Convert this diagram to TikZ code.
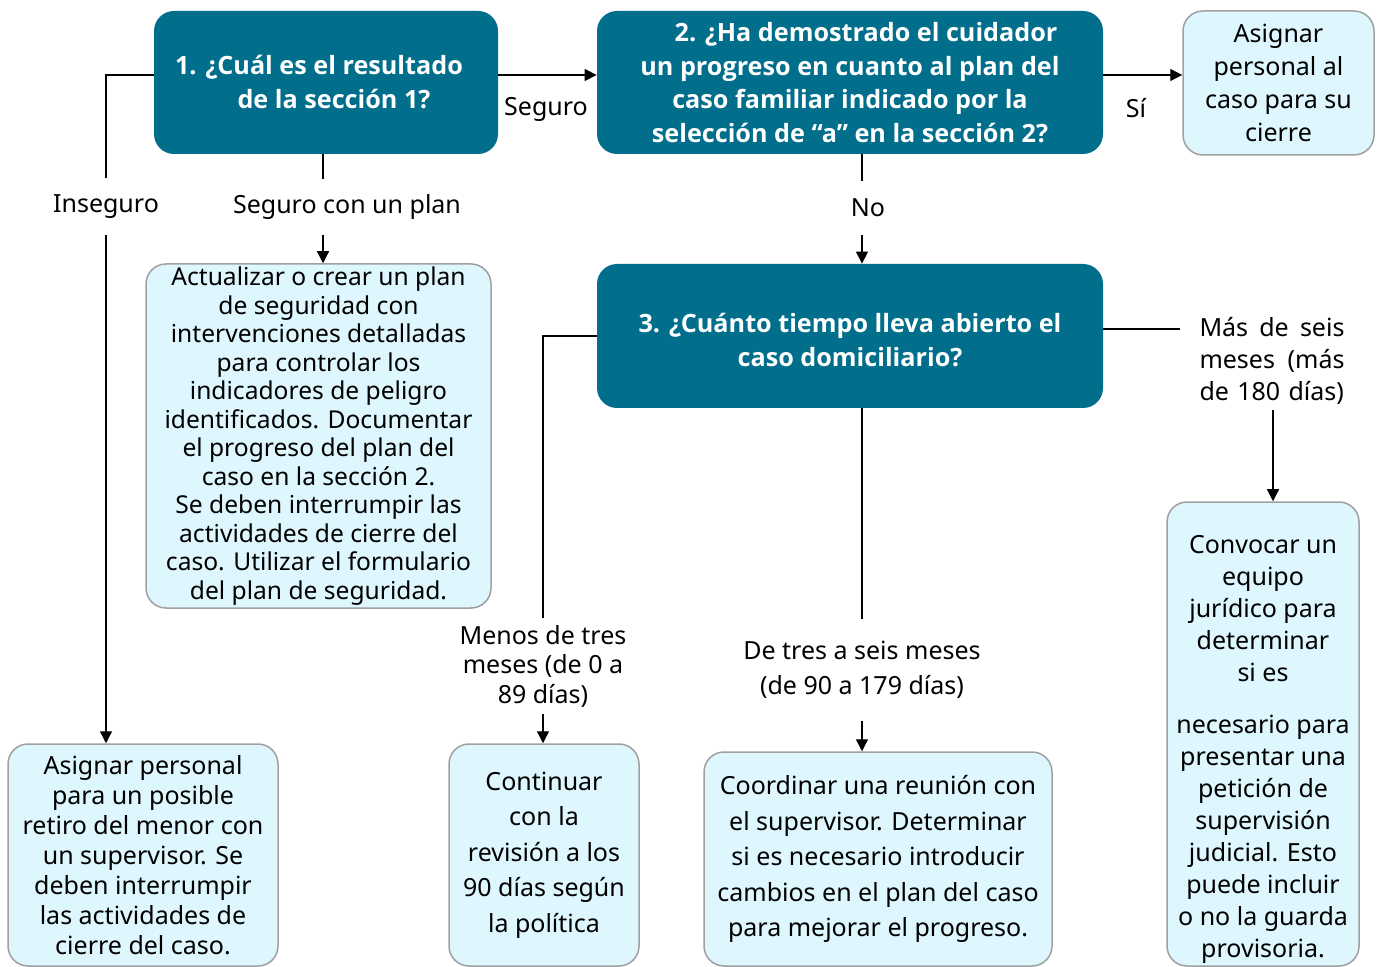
\documentclass[tikz,border=0pt]{standalone}
\usepackage{fontspec}
\setmainfont{Noto Sans}
\newfontfamily\hdfont{Open Sans}
\usetikzlibrary{arrows.meta}
\definecolor{darkbox}{RGB}{1,110,139}
\definecolor{lightfill}{RGB}{222,246,253}
\definecolor{lightdraw}{RGB}{160,160,160}
\begin{document}
\begin{tikzpicture}[x=0.5pt,y=-0.5pt,
 dbox/.style={fill=darkbox, rounded corners=10pt, text=white, font=\hdfont\bfseries\fontsize{12.6}{16.75}\selectfont, align=center, inner sep=0pt},
 lbox/.style={fill=lightfill, draw=lightdraw, line width=0.75pt, rounded corners=10pt, align=center, inner sep=0pt},
 lbl/.style={align=center, inner sep=0pt, font=\fontsize{12.5}{14.75}\selectfont},
 conn/.style={line width=0.65pt, draw=black},
 arr/.style={-{Triangle[length=6pt,width=6pt]}}]
\clip (0,0) rectangle (1380,967);
\fill[white] (0,0) rectangle (1380,967);

% decision boxes
\node[dbox, minimum width=172pt, minimum height=71.5pt, font=\hdfont\bfseries\fontsize{12.6}{17}\selectfont] (b1) at (326,82.5) {1. ¿Cuál es el resultado\hspace*{7pt}\\\hspace*{8pt}de la sección 1?};
\node[dbox, minimum width=253pt, minimum height=71.5pt] (b2) at (850,82.5) {\hspace*{16pt}2. ¿Ha demostrado el cuidador\\un progreso en cuanto al plan del\\caso familiar indicado por la\\selección de “a” en la sección 2?};
\node[dbox, minimum width=253pt, minimum height=72pt, font=\hdfont\bfseries\fontsize{12.6}{17}\selectfont] (b4) at (850,336) {\rule{0pt}{13.5pt}3. ¿Cuánto tiempo lleva abierto el\\caso domiciliario?};

% action boxes
\node[lbox, minimum width=95.5pt, minimum height=72pt, font=\fontsize{12.5}{16.5}\selectfont] (b3) at (1278.5,83) {Asignar\\personal al\\caso para su\\cierre};
\node[lbox, minimum width=172.5pt, minimum height=172pt, font=\fontsize{12.3}{14.25}\selectfont] (bA) at (318.5,436) {Actualizar o crear un plan\\de seguridad con\\intervenciones detalladas\\para controlar los\\indicadores de peligro\\identificados. Documentar\\el progreso del plan del\\caso en la sección 2.\\Se deben interrumpir las\\actividades de cierre del\\caso. Utilizar el formulario\\del plan de seguridad.};
\node[lbox, minimum width=135pt, minimum height=111pt, font=\fontsize{12.5}{15}\selectfont] (bB) at (143,855) {Asignar personal\\para un posible\\retiro del menor con\\un supervisor. Se\\deben interrumpir\\las actividades de\\cierre del caso.};
\node[lbox, minimum width=95pt, minimum height=111pt, font=\fontsize{12.5}{17.75}\selectfont] (bC) at (544,855) {Continuar\\con la\\revisión a los\\90 días según\\la política};
\node[lbox, minimum width=174pt, minimum height=107pt, font=\fontsize{12.5}{17.75}\selectfont] (bD) at (878,859) {Coordinar una reunión con\\el supervisor. Determinar\\si es necesario introducir\\cambios en el plan del caso\\para mejorar el progreso.};
\node[lbox, minimum width=96pt, minimum height=232pt] (bE) at (1263,734) {};
\node[align=center, inner sep=0pt, font=\fontsize{12.5}{16}\selectfont] (tE) at (1263,749) {Convocar un\\equipo\\jurídico para\\determinar\\si es\\[10pt]necesario para\\presentar una\\petición de\\supervisión\\judicial. Esto\\puede incluir\\o no la guarda\\provisoria.};

% labels
\node[lbl, minimum height=28.5pt] (lIns) at (106,206.5) {Inseguro};
\node[lbl, minimum height=28pt] (lSP) at (323,207) {\hspace*{24pt}Seguro con un plan};
\node[lbl] (lSeg) at (546,109) {Seguro};
\node[lbl] (lSi) at (1136,108) {Sí};
\node[lbl, minimum height=27pt] (lNo) at (862,208) {\hspace*{6pt}No};
\node[lbl, minimum height=48pt] (lMen) at (543,666) {Menos de tres\\meses (de 0 a\\89 días)};
\node[lbl, minimum height=50.5pt, font=\fontsize{12.5}{17.5}\selectfont] (lDe) at (862,670) {De tres a seis meses\\(de 90 a 179 días)};
\node[lbl, text width=72.5pt, align=left, font=\fontsize{12.5}{16}\selectfont] (lMas) at (1272,361) {Más\hfill de\hfill seis\\meses\hfill (más\\de 180 días)};
\coordinate (mIn) at (1180,329);
\coordinate (mOut) at (1273,410);

% connectors
\draw[conn] (b1.west |- 0,75) -| (lIns.north);
\draw[conn,arr] (lIns.south) -- (lIns.south |- bB.north);
\draw[conn] (b1.south -| lSP) -- (lSP.north);
\draw[conn,arr] (lSP.south) -- (lSP.south |- bA.north);
\draw[conn,arr] (b1.east |- 0,75) -- (b2.west |- 0,75);
\draw[conn,arr] (b2.east |- 0,75) -- (b3.west |- 0,75);
\draw[conn] (b2.south -| lNo) -- (lNo.north);
\draw[conn,arr] (lNo.south) -- (lNo.south |- b4.north);
\draw[conn] (b4.west) -| (lMen.north);
\draw[conn,arr] (lMen.south) -- (lMen.south |- bC.north);
\draw[conn] (b4.south -| lDe) -- (lDe.north);
\draw[conn,arr] (lDe.south) -- (lDe.south |- bD.north);
\draw[conn] (b4.east |- mIn) -- (mIn);
\draw[conn,arr] (mOut) -- (mOut |- bE.north);
\end{tikzpicture}
\end{document}
